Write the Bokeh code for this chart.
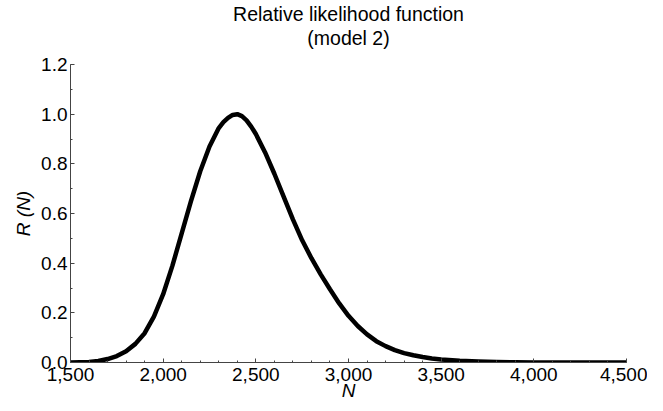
from bokeh.plotting import figure
from bokeh.models import (Range1d, Title, FixedTicker, NumeralTickFormatter,
                          PrintfTickFormatter, ColumnDataSource)
from bokeh.embed import file_html
from bokeh.resources import INLINE

# Data
n_values = [1500, 1600, 1650, 1700, 1750, 1800, 1850, 1900, 1950, 2000, 2050,
            2100, 2150, 2200, 2250, 2300, 2325, 2350, 2375, 2400, 2425, 2450,
            2475, 2500, 2550, 2600, 2650, 2700, 2750, 2800, 2850, 2900, 2950,
            3000, 3050, 3100, 3150, 3200, 3250, 3300, 3350, 3400, 3450, 3500,
            3600, 3700, 3800, 3900, 4000, 4200, 4500]
r_values = [0.000, 0.002, 0.006, 0.014, 0.026, 0.045, 0.075, 0.118, 0.185,
            0.275, 0.390, 0.520, 0.650, 0.770, 0.870, 0.944, 0.968, 0.985,
            0.997, 1.000, 0.992, 0.975, 0.950, 0.920, 0.846, 0.760, 0.668,
            0.576, 0.492, 0.420, 0.355, 0.295, 0.238, 0.188, 0.147, 0.113,
            0.086, 0.066, 0.050, 0.038, 0.029, 0.022, 0.016, 0.012, 0.007,
            0.004, 0.002, 0.001, 0.0005, 0.0, 0.0]

x_ticks = [1500, 2000, 2500, 3000, 3500, 4000, 4500]
y_ticks = [0.0, 0.2, 0.4, 0.6, 0.8, 1.0, 1.2]

FONT = "Liberation Sans"

p = figure(width=647, height=403, output_backend="svg", toolbar_location=None,
           x_range=Range1d(1500, 4500), y_range=Range1d(0, 1.2),
           min_border_left=70, min_border_right=21, min_border_bottom=39,
           min_border_top=64)

p.title = None
# small blank spacer between the frame and the two title lines
p.add_layout(Title(text=" ", text_font=FONT, text_font_size="12px",
                   standoff=0), "above")
p.add_layout(Title(text="(model 2)", align="center", text_font=FONT,
                   text_font_size="19.5px", text_font_style="normal",
                   text_color="black", standoff=0), "above")
p.add_layout(Title(text="Relative likelihood function", align="center",
                   text_font=FONT, text_font_size="19.5px",
                   text_font_style="normal", text_color="black",
                   standoff=0), "above")

src = ColumnDataSource(data=dict(n=n_values, r=r_values))
p.line("n", "r", source=src, line_color="black", line_width=4.5,
       line_join="round", line_cap="round")

p.outline_line_color = None
p.xgrid.visible = False
p.ygrid.visible = False

xa = p.xaxis[0]
xa.ticker = FixedTicker(ticks=x_ticks,
                        minor_ticks=list(range(1500, 4501, 100)))
xa.formatter = NumeralTickFormatter(format="0,0")
xa.axis_label = "N"

ya = p.yaxis[0]
ya.ticker = FixedTicker(ticks=y_ticks,
                        minor_ticks=[i / 10 for i in range(0, 13)])
ya.formatter = PrintfTickFormatter(format="%.1f")
ya.axis_label = "R (N)"

for ax in (xa, ya):
    ax.axis_line_color = "#444444"
    ax.axis_line_width = 1
    ax.major_tick_in = 4
    ax.major_tick_out = 0
    ax.minor_tick_in = 2
    ax.minor_tick_out = 0
    ax.major_tick_line_color = "#444444"
    ax.minor_tick_line_color = "#444444"
    ax.major_label_text_font = FONT
    ax.major_label_text_font_size = "19px"
    ax.major_label_text_color = "black"
    ax.axis_label_text_font = FONT
    ax.axis_label_text_font_size = "19px"
    ax.axis_label_text_font_style = "italic"
    ax.axis_label_text_color = "black"

xa.major_label_standoff = 5
xa.axis_label_standoff = -4
ya.major_label_standoff = 3
ya.axis_label_standoff = 4

open("out.html", "w").write(file_html(p, INLINE))
